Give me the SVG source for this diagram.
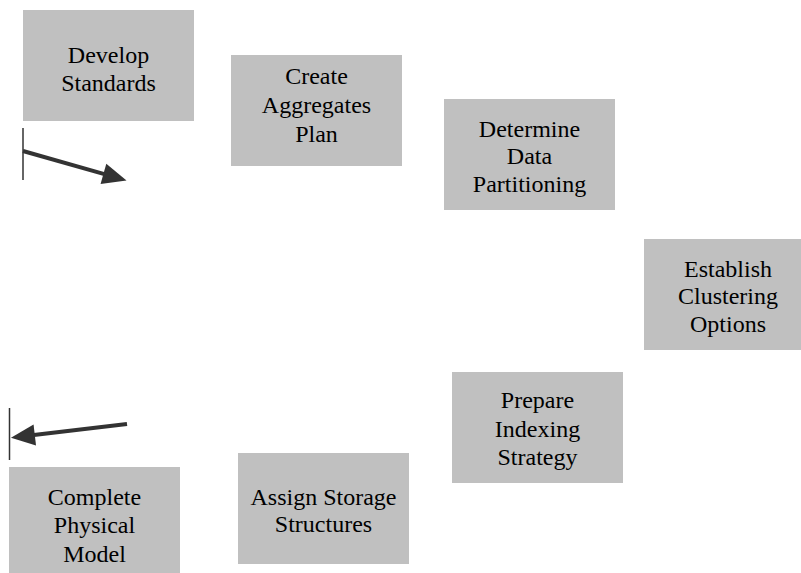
<svg xmlns="http://www.w3.org/2000/svg" width="801" height="573" viewBox="0 0 801 573">
<style>
.box{fill:#c0c0c0;stroke:none}
.t{font-family:"Liberation Serif","Times New Roman",serif;font-size:24px;fill:#000;text-anchor:middle}
.bar{stroke:#333;stroke-width:1.5;fill:none}
.arr{stroke:#333;stroke-width:4;fill:none;marker-end:url(#ah)}
</style>
<defs>
<marker id="ah" markerUnits="userSpaceOnUse" markerWidth="24" markerHeight="21" viewBox="0 -10.5 24 21" refX="1" refY="0" orient="auto" overflow="visible">
<path d="M0,-10.5 L24,0 L0,10.5 z" fill="#333"/>
</marker>
</defs>
<rect width="801" height="573" fill="#fff"/>
<g id="develop-standards">
<rect class="box" x="23" y="10" width="171" height="111"/>
<text class="t" x="108.5" y="63">Develop</text>
<text class="t" x="108.5" y="91">Standards</text>
</g>
<g id="create-aggregates-plan">
<rect class="box" x="231" y="55" width="171" height="111"/>
<text class="t" x="316.5" y="84">Create</text>
<text class="t" x="316.5" y="113">Aggregates</text>
<text class="t" x="316.5" y="142">Plan</text>
</g>
<g id="determine-data-partitioning">
<rect class="box" x="444" y="99" width="171" height="111"/>
<text class="t" x="529.5" y="137">Determine</text>
<text class="t" x="529.5" y="164">Data</text>
<text class="t" x="529.5" y="192">Partitioning</text>
</g>
<g id="establish-clustering-options">
<rect class="box" x="644" y="239" width="171" height="111"/>
<text class="t" x="728" y="277">Establish</text>
<text class="t" x="728" y="304">Clustering</text>
<text class="t" x="728" y="332">Options</text>
</g>
<g id="prepare-indexing-strategy">
<rect class="box" x="452" y="372" width="171" height="111"/>
<text class="t" x="537.5" y="408">Prepare</text>
<text class="t" x="537.5" y="437">Indexing</text>
<text class="t" x="537.5" y="465">Strategy</text>
</g>
<g id="assign-storage-structures">
<rect class="box" x="238" y="453" width="171" height="111"/>
<text class="t" x="323.5" y="505">Assign Storage</text>
<text class="t" x="323.5" y="532">Structures</text>
</g>
<g id="complete-physical-model">
<rect class="box" x="9" y="467" width="171" height="111"/>
<text class="t" x="94.5" y="505">Complete</text>
<text class="t" x="94.5" y="533">Physical</text>
<text class="t" x="94.5" y="562">Model</text>
</g>
<g id="connectors">
<line class="bar" x1="23" y1="128" x2="23" y2="180"/>
<line class="arr" x1="23" y1="151" x2="104.4" y2="174.1"/>
<line class="bar" x1="9.5" y1="408" x2="9.5" y2="460"/>
<line class="arr" x1="127" y1="424" x2="33.8" y2="435.1"/>
</g>
</svg>
